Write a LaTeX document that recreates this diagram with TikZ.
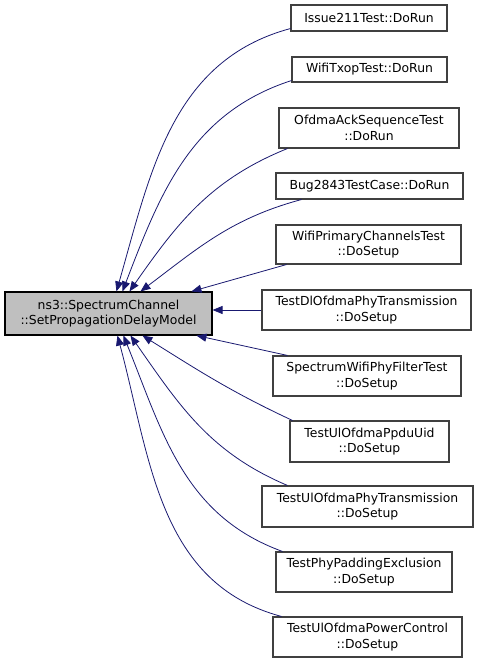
\documentclass[tikz,border=0pt]{standalone}
\usepackage{fontspec}
\setmainfont{DejaVu Sans}
\usetikzlibrary{arrows.meta,positioning}
\definecolor{edgeblue}{HTML}{191970}
\definecolor{boxgray}{HTML}{BFBFBF}
\definecolor{rimgray}{HTML}{404040}

\begin{document}
\begin{tikzpicture}[x=1pt, y=1pt,
    box/.style={draw=rimgray, line width=1.1pt, fill=white, align=center, inner sep=0pt,
        font=\fontsize{12.4}{15.5}\selectfont},
    root/.style={box, draw=black, fill=boxgray},
    call/.style={draw=edgeblue, line width=0.8pt, {Triangle[length=10pt,width=8pt]}-}]
    \useasboundingbox (0,0) rectangle (483,663);

    % Function under study
    \node[root, minimum width=207, minimum height=43] (main) at (108.5,349.5)
        {ns3::SpectrumChannel\\::SetPropagationDelayModel};

    % Callers
    \node[box, minimum width=156, minimum height=26] (issue) at (369,645) {Issue211Test::DoRun};
    \node[box, minimum width=155, minimum height=25] (txop) at (369.5,593.5) {WifiTxopTest::DoRun};
    \node[box, minimum width=180, minimum height=40] (acks) at (369,535) {OfdmaAckSequenceTest\\::DoRun};
    \node[box, minimum width=187, minimum height=26] (bug) at (369.5,477) {Bug2843TestCase::DoRun};
    \node[box, minimum width=185, minimum height=39] (prim) at (368.5,418.5) {WifiPrimaryChannelsTest\\::DoSetup};
    \node[box, minimum width=209, minimum height=40] (dlphy) at (366.5,353) {TestDlOfdmaPhyTransmission\\::DoSetup};
    \node[box, minimum width=188, minimum height=40] (filt) at (367,287) {SpectrumWifiPhyFilterTest\\::DoSetup};
    \node[box, minimum width=159, minimum height=41] (ppdu) at (369.5,221.5) {TestUlOfdmaPpduUid\\::DoSetup};
    \node[box, minimum width=211, minimum height=41] (ulphy) at (367.5,156.5) {TestUlOfdmaPhyTransmission\\::DoSetup};
    \node[box, minimum width=176, minimum height=40] (pad) at (364,91) {TestPhyPaddingExclusion\\::DoSetup};
    \node[box, minimum width=189, minimum height=40] (power) at (367.5,26) {TestUlOfdmaPowerControl\\::DoSetup};

    % Edges above the root
    \draw[call] ([xshift=112]main.north west) to[in=195, out=74] ([yshift=3]issue.south west);
    \draw[call] ([xshift=118]main.north west) to[in=198, out=69] ([yshift=2]txop.south west);
    \draw[call] ([xshift=125]main.north west) to[in=202, out=55] ([xshift=9]acks.south west);
    \draw[call] ([xshift=136]main.north west) to[in=195, out=37] ([xshift=26]bug.south west);
    \draw[call] ([xshift=187]main.north west) -- ([xshift=11]prim.south west);

    % Edge to the right
    \draw[call] (main.east |- dlphy.west) -- (dlphy.west);

    % Edges below the root
    \draw[call] ([xshift=192]main.south west) -- ([xshift=15]filt.north west);
    \draw[call] ([xshift=138]main.south west) to[out=-32, in=155] ([xshift=3]ppdu.north west);
    \draw[call] ([xshift=126]main.south west) to[out=-55, in=157] ([xshift=26]ulphy.north west);
    \draw[call] ([xshift=119]main.south west) to[out=-68, in=160] ([xshift=7]pad.north west);
    \draw[call] ([xshift=113]main.south west) to[out=-75, in=165] ([xshift=9]power.north west);
\end{tikzpicture}
\end{document}
